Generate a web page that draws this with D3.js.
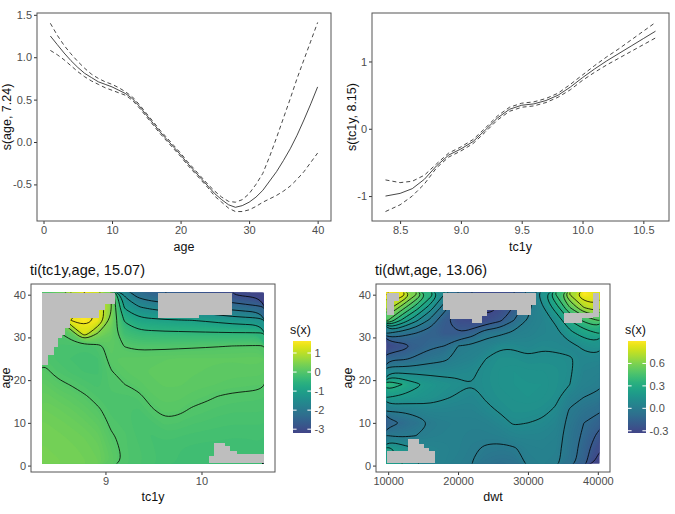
<!DOCTYPE html>
<html>
<head>
<meta charset="utf-8">
<script src="https://cdn.jsdelivr.net/npm/d3@7"></script>
<style>
  body { margin: 0; background: #fff; }
</style>
</head>
<body>
<svg id="chart" width="675" height="514"></svg>
<script>
// ---- top left: s(age) ----
const ages1 = [1, 2, 3, 4, 5, 6, 7, 8, 9, 10, 11, 12, 13, 14, 15, 16, 17, 18, 19, 20,
               21, 22, 23, 24, 25, 26, 27, 28, 29, 30, 31, 32, 33, 34, 35, 36, 37, 38, 39, 40];
const fit1 = [1.25, 1.15, 1.05, 0.96, 0.88, 0.81, 0.76, 0.71, 0.68, 0.65,
              0.61, 0.57, 0.51, 0.42, 0.32, 0.22, 0.12, 0.03, -0.06, -0.15,
              -0.25, -0.34, -0.43, -0.52, -0.61, -0.68, -0.74, -0.77, -0.75, -0.71,
              -0.65, -0.57, -0.46, -0.35, -0.22, -0.08, 0.08, 0.26, 0.45, 0.65];
const upper1 = [1.40, 1.26, 1.14, 1.04, 0.95, 0.87, 0.80, 0.75, 0.71, 0.68,
                0.64, 0.59, 0.53, 0.44, 0.34, 0.24, 0.14, 0.05, -0.04, -0.13,
                -0.23, -0.32, -0.41, -0.50, -0.58, -0.65, -0.70, -0.71, -0.68, -0.61,
                -0.50, -0.37, -0.17, 0.05, 0.28, 0.51, 0.75, 0.97, 1.19, 1.41];
const lower1 = [1.08, 1.03, 0.97, 0.90, 0.83, 0.77, 0.72, 0.68, 0.64, 0.61,
                0.58, 0.55, 0.49, 0.40, 0.30, 0.20, 0.10, 0.01, -0.08, -0.17,
                -0.27, -0.36, -0.45, -0.54, -0.64, -0.71, -0.78, -0.82, -0.82, -0.80,
                -0.76, -0.71, -0.67, -0.63, -0.58, -0.52, -0.44, -0.35, -0.24, -0.13];

// ---- top right: s(tc1y) ----
const tc1y2 = [8.38, 8.5, 8.6, 8.7, 8.8, 8.9, 9.0, 9.1, 9.2, 9.3, 9.4, 9.5,
               9.6, 9.7, 9.8, 9.9, 10.0, 10.1, 10.2, 10.3, 10.4, 10.5, 10.6];
const fit2 = [-1.00, -0.96, -0.89, -0.75, -0.55, -0.39, -0.30, -0.19, -0.02, 0.16, 0.29, 0.35,
              0.37, 0.42, 0.50, 0.62, 0.76, 0.89, 1.01, 1.12, 1.23, 1.34, 1.45];
const upper2 = [-0.76, -0.80, -0.78, -0.69, -0.52, -0.36, -0.27, -0.16, 0.01, 0.19, 0.32, 0.38,
                0.40, 0.45, 0.53, 0.66, 0.80, 0.94, 1.07, 1.19, 1.32, 1.45, 1.58];
const lower2 = [-1.23, -1.13, -1.00, -0.82, -0.58, -0.42, -0.33, -0.22, -0.05, 0.13, 0.26, 0.32,
                0.34, 0.39, 0.47, 0.58, 0.72, 0.84, 0.95, 1.05, 1.15, 1.25, 1.35];

// ---- bottom left: ti(tc1y, age) ----
const tc1y3 = [8.36, 8.50, 8.64, 8.78, 8.92, 9.06, 9.20, 9.34, 9.48, 9.62, 9.76, 9.90, 10.04, 10.18, 10.32, 10.46, 10.60];
const ages3 = [40, 37, 34, 31, 28, 25, 22, 19, 16, 13, 10, 7, 4, 1];
const fx3 = [
  [ 0.00,  0.30, 1.00, 1.50, 1.20, 0.50, -1.60, -2.20, -2.40, -2.50, -2.60, -2.70, -2.80, -2.90, -3.00, -3.10, -3.20],
  [ 0.00,  0.30, 1.30, 1.60, 1.40, 0.50, -1.05, -1.45, -1.60, -1.70, -1.75, -1.80, -1.90, -2.05, -2.20, -2.30, -2.40],
  [-0.05,  0.30, 1.50, 1.63, 1.45, 0.40, -0.55, -0.85, -0.90, -0.95, -0.98, -1.00, -1.05, -1.12, -1.20, -1.25, -1.30],
  [-0.10, -0.05, 0.15, 1.30, 0.50, 0.20, -0.25, -0.38, -0.40, -0.42, -0.43, -0.44, -0.45, -0.46, -0.47, -0.47, -0.48],
  [-0.10, -0.12, -0.12, -0.15, -0.08, 0.12, -0.01, -0.05, -0.05, -0.05, -0.04, -0.03, -0.02, -0.01, 0.00, 0.01, 0.02],
  [-0.05, -0.12, -0.16, -0.18, -0.16, 0.08, 0.10, 0.10, 0.12, 0.13, 0.14, 0.14, 0.14, 0.14, 0.14, 0.15, 0.15],
  [ 0.05, -0.06, -0.12, -0.16, -0.17, -0.01, 0.08, 0.12, 0.14, 0.15, 0.15, 0.14, 0.13, 0.12, 0.11, 0.11, 0.11],
  [ 0.14,  0.05, -0.01, -0.08, -0.13, -0.04, 0.00, 0.06, 0.12, 0.14, 0.14, 0.12, 0.10, 0.08, 0.06, 0.05, 0.04],
  [ 0.22,  0.16, 0.10, 0.03, -0.06, -0.07, -0.08, -0.05, 0.07, 0.11, 0.10, 0.06, 0.03, -0.01, -0.03, -0.04, -0.05],
  [ 0.28,  0.24, 0.19, 0.12, 0.03, -0.08, -0.10, -0.12, -0.02, 0.06, 0.04, -0.02, -0.05, -0.08, -0.10, -0.10, -0.10],
  [ 0.33,  0.30, 0.26, 0.20, 0.12, -0.04, -0.08, -0.14, -0.12, -0.04, -0.06, -0.10, -0.12, -0.14, -0.15, -0.15, -0.15],
  [ 0.36,  0.34, 0.31, 0.27, 0.20, 0.02, -0.05, -0.12, -0.16, -0.14, -0.15, -0.17, -0.18, -0.19, -0.20, -0.20, -0.19],
  [ 0.38,  0.36, 0.34, 0.31, 0.25, 0.08, -0.05, -0.10, -0.15, -0.18, -0.20, -0.22, -0.23, -0.23, -0.23, -0.23, -0.22],
  [ 0.40,  0.38, 0.36, 0.33, 0.28, 0.13, -0.04, -0.09, -0.14, -0.18, -0.21, -0.23, -0.24, -0.25, -0.25, -0.24, -0.23]
];
// cells too far from data, [x0, x1, age0, age1]
const na3 = [
  [8.34, 8.40, 23.6, 40.5], [8.40, 8.46, 25.9, 40.5], [8.46, 8.51, 27.8, 40.5],
  [8.51, 8.55, 29.8, 40.5], [8.55, 8.58, 30.5, 40.5], [8.58, 8.63, 32.1, 40.5],
  [8.63, 8.93, 34.6, 40.5], [8.93, 9.00, 36.4, 40.5], [9.00, 9.10, 37.9, 40.5],
  [9.55, 9.97, 34.6, 40.5], [9.97, 10.32, 35.3, 40.5],
  [10.08, 10.13, 0.5, 2.2], [10.13, 10.24, 0.5, 5.3], [10.24, 10.30, 0.5, 4.5],
  [10.30, 10.37, 0.5, 3.3], [10.37, 10.65, 0.5, 2.6]
];

// ---- bottom right: ti(dwt, age) ----
const dwt4 = [10000, 12000, 14000, 16000, 18000, 20000, 22000, 24000, 26000, 28000, 30000, 32000, 34000, 36000, 38000, 40000];
const ages4 = [40, 37, 34, 31, 28, 25, 22, 19, 16, 13, 10, 7, 4, 1];
const fx4 = [
  [ 0.90,  0.85,  0.60,  0.35,  0.10, -0.10, -0.20, -0.28, -0.28, -0.20, -0.05, 0.15, 0.40, 0.70, 0.90, 0.85],
  [ 0.75,  0.55,  0.35,  0.15, -0.05, -0.22, -0.30, -0.33, -0.30, -0.20, -0.03, 0.08, 0.25, 0.50, 0.70, 0.78],
  [ 0.50,  0.28,  0.12, -0.02, -0.18, -0.28, -0.30, -0.28, -0.22, -0.10, 0.01, 0.05, 0.12, 0.30, 0.42, 0.50],
  [ 0.00, -0.05, -0.10, -0.15, -0.20, -0.20, -0.15, -0.03, -0.02, 0.02, 0.04, 0.06, 0.07, 0.17, 0.25, 0.30],
  [-0.30, -0.25, -0.17, -0.12, -0.10, 0.00, 0.02, 0.04, 0.09, 0.09, 0.07, 0.09, 0.08, 0.07, 0.12, 0.15],
  [-0.12, -0.12, -0.08, -0.04, -0.02, 0.03, 0.05, 0.10, 0.13, 0.13, 0.11, 0.12, 0.12, 0.11, 0.07, 0.07],
  [ 0.08,  0.07,  0.07,  0.07,  0.07, 0.08, 0.09, 0.12, 0.14, 0.15, 0.14, 0.14, 0.13, 0.11, 0.05, 0.04],
  [ 0.38,  0.30,  0.22,  0.17,  0.14, 0.12, 0.10, 0.12, 0.14, 0.15, 0.15, 0.15, 0.13, 0.10, 0.04, 0.02],
  [ 0.20,  0.18,  0.16,  0.14,  0.11, 0.09, 0.07, 0.11, 0.13, 0.14, 0.15, 0.14, 0.12, 0.04, 0.00, -0.02],
  [ 0.02,  0.02,  0.04,  0.06,  0.06, 0.05, 0.05, 0.08, 0.11, 0.13, 0.13, 0.12, 0.09, -0.01, -0.05, -0.08],
  [-0.15, -0.10, -0.05,  0.00,  0.02, 0.03, 0.03, 0.04, 0.07, 0.11, 0.10, 0.09, 0.06, -0.03, -0.10, -0.15],
  [ 0.00, -0.02,  0.00,  0.02,  0.03, 0.03, 0.02, 0.02, 0.03, 0.06, 0.06, 0.06, 0.04, -0.04, -0.12, -0.22],
  [ 0.22,  0.15,  0.10,  0.06,  0.05, 0.03, 0.01, -0.01, -0.02, -0.01, 0.03, 0.04, 0.03, -0.05, -0.14, -0.28],
  [ 0.25,  0.20,  0.12,  0.06,  0.04, 0.02, 0.00, -0.04, -0.06, -0.05, 0.02, 0.03, 0.02, -0.05, -0.16, -0.33]
];
const na4 = [
  [9780, 10800, 35.2, 40.5], [10800, 11600, 38.5, 40.5],
  [17900, 18900, 36.5, 40.5], [18900, 22000, 34.4, 40.5], [22000, 23400, 33.3, 40.5],
  [23400, 24200, 35.0, 40.5], [24200, 28400, 36.4, 40.5], [28400, 30500, 35.2, 40.5],
  [30500, 31100, 37.5, 40.5],
  [35100, 37800, 33.3, 35.6], [37800, 39300, 34.5, 35.6], [39300, 40220, 34.7, 40.5],
  [9780, 12800, 0.5, 3.4], [12800, 14400, 0.5, 6.2], [14400, 15100, 0.5, 5.0],
  [15100, 15800, 0.5, 4.2], [15800, 16700, 0.5, 3.4]
];

const FONT = "'Liberation Sans', Arial, sans-serif";
const svg = d3.select("#chart");
svg.append("rect").attr("width", 675).attr("height", 514).attr("fill", "#fff");
const defs = svg.append("defs");

const expand = ([a, b]) => [a - 0.05 * (b - a), b + 0.05 * (b - a)];

function axes(box, x, y, xt, yt, xf, yf) {
  const ax = svg.append("g").attr("transform", `translate(0,${box.y1})`)
    .call(d3.axisBottom(x).tickValues(xt).tickFormat(xf).tickSize(3).tickPadding(2));
  const ay = svg.append("g").attr("transform", `translate(${box.x0},0)`)
    .call(d3.axisLeft(y).tickValues(yt).tickFormat(yf).tickSize(3).tickPadding(2));
  [ax, ay].forEach(g => {
    g.attr("font-family", FONT).attr("font-size", 11);
    g.select(".domain").remove();
    g.selectAll(".tick line").attr("stroke", "#333");
    g.selectAll(".tick text").attr("fill", "#4d4d4d");
  });
  svg.append("rect")
    .attr("x", box.x0).attr("y", box.y0)
    .attr("width", box.x1 - box.x0).attr("height", box.y1 - box.y0)
    .attr("fill", "none").attr("stroke", "#555").attr("stroke-width", 1);
}

function label(txt, x, y, size, rotate) {
  const t = svg.append("text").text(txt)
    .attr("font-family", FONT).attr("font-size", size).attr("fill", "#111");
  if (rotate) t.attr("text-anchor", "middle").attr("transform", `translate(${x},${y}) rotate(-90)`);
  else t.attr("x", x).attr("y", y).attr("text-anchor", "middle");
  return t;
}

// ---- smooth plots ----
function smoothPlot(box, xs, fit, up, lo, xt, yt, xf, yf, xTitle, yTitle, yTitleX) {
  const x = d3.scaleLinear().domain(expand(d3.extent(xs))).range([box.x0, box.x1]);
  const y = d3.scaleLinear().domain(expand(d3.extent(lo.concat(up)))).range([box.y1, box.y0]);
  const line = d3.line().x((d, i) => x(xs[i])).y(d => y(d));
  svg.append("path").attr("d", line(fit)).attr("fill", "none")
    .attr("stroke", "#333").attr("stroke-width", 0.9);
  [up, lo].forEach(s => svg.append("path").attr("d", line(s)).attr("fill", "none")
    .attr("stroke", "#333").attr("stroke-width", 0.9).attr("stroke-dasharray", "4,3"));
  axes(box, x, y, xt, yt, xf, yf);
  label(xTitle, (box.x0 + box.x1) / 2, 250.5, 12.5);
  label(yTitle, yTitleX, (box.y0 + box.y1) / 2, 12.5, true);
}

smoothPlot({x0: 37, x1: 331, y0: 13, y1: 221}, ages1, fit1, upper1, lower1,
  [0, 10, 20, 30, 40], [-0.5, 0, 0.5, 1, 1.5], d => d, d => d.toFixed(1),
  "age", "s(age, 7.24)", 11);
smoothPlot({x0: 372, x1: 669, y0: 13, y1: 221}, tc1y2, fit2, upper2, lower2,
  [8.5, 9, 9.5, 10, 10.5], [-1, 0, 1], d => d.toFixed(1), d => d.toFixed(0),
  "tc1y", "s(tc1y, 8.15)", 355.5);

// ---- tensor interaction rasters ----
function rasterPlot(id, cfg) {
  const {box, cols, rows, fx, na, rx, ry, xt, xf, levels, legendX, legTicks, legFmt, title, xTitle, yTitleX} = cfg;
  const nx = cols.length, ny = rows.length;
  const values = fx.flat();
  const ext = d3.extent(values);
  const x = d3.scaleLinear().domain(expand(rx)).range([box.x0, box.x1]);
  const y = d3.scaleLinear().domain(expand(ry)).range([box.y1, box.y0]);
  const gx = d3.scaleLinear().domain([0.5, nx - 0.5]).range([x(cols[0]), x(cols[nx - 1])]);
  const gy = d3.scaleLinear().domain([0.5, ny - 0.5]).range([y(rows[0]), y(rows[ny - 1])]);
  const color = v => d3.interpolateViridis(0.2 + 0.8 * (v - ext[0]) / (ext[1] - ext[0]));

  const ring = d3.line().x(p => gx(p[0])).y(p => gy(p[1])).curve(d3.curveBasisClosed);
  const shape = c => c.coordinates.map(poly => poly.map(r => ring(r.slice(0, -1))).join("")).join("");

  defs.append("clipPath").attr("id", "clip" + id).append("rect")
    .attr("x", x(rx[0])).attr("y", y(ry[1]))
    .attr("width", x(rx[1]) - x(rx[0])).attr("height", y(ry[0]) - y(ry[1]));
  const g = svg.append("g").attr("clip-path", `url(#clip${id})`);

  const nBands = 100, step = (ext[1] - ext[0]) / nBands;
  const th = d3.range(nBands).map(i => ext[0] + i * step);
  const bands = d3.contours().size([nx, ny]).thresholds(th)(values);
  g.append("rect").attr("x", box.x0).attr("y", box.y0)
    .attr("width", box.x1 - box.x0).attr("height", box.y1 - box.y0).attr("fill", color(ext[0]));
  g.selectAll("path.band").data(bands).join("path").attr("class", "band")
    .attr("d", shape).attr("fill", d => color(d.value + step / 2)).attr("fill-rule", "evenodd");

  const iso = d3.contours().size([nx, ny]).thresholds(levels)(values);
  g.selectAll("path.iso").data(iso).join("path").attr("class", "iso")
    .attr("d", shape).attr("fill", "none").attr("stroke", "#000").attr("stroke-width", 0.8);

  svg.append("g").selectAll("rect").data(na).join("rect")
    .attr("x", d => x(d[0])).attr("width", d => x(d[1]) - x(d[0]))
    .attr("y", d => y(d[3])).attr("height", d => y(d[2]) - y(d[3]))
    .attr("fill", "#bebebe").attr("shape-rendering", "crispEdges");

  axes(box, x, y, xt, [0, 10, 20, 30, 40], xf, d => d);
  svg.append("text").text(title).attr("x", box.x0 - 1).attr("y", 274.5)
    .attr("font-family", FONT).attr("font-size", 14.5).attr("fill", "#111");
  label(xTitle, (box.x0 + box.x1) / 2, 500.5, 12.5);
  label("age", yTitleX, (box.y0 + box.y1) / 2, 12.5, true);

  // colour bar
  const lb = {x0: legendX, x1: legendX + 18, y0: 341, y1: 433};
  const ls = d3.scaleLinear().domain(ext).range([lb.y1, lb.y0]);
  const grad = defs.append("linearGradient").attr("id", "grad" + id)
    .attr("x1", 0).attr("y1", 1).attr("x2", 0).attr("y2", 0);
  d3.range(0, 1.0001, 0.05).forEach(t => grad.append("stop")
    .attr("offset", t).attr("stop-color", color(ext[0] + t * (ext[1] - ext[0]))));
  svg.append("rect").attr("x", lb.x0).attr("y", lb.y0)
    .attr("width", lb.x1 - lb.x0).attr("height", lb.y1 - lb.y0).attr("fill", `url(#grad${id})`);
  legTicks.forEach(v => {
    [[lb.x0, lb.x0 + 3.6], [lb.x1 - 3.6, lb.x1]].forEach(([a, b]) =>
      svg.append("line").attr("x1", a).attr("x2", b).attr("y1", ls(v)).attr("y2", ls(v))
        .attr("stroke", "#fff").attr("stroke-width", 1));
    svg.append("text").text(legFmt(v)).attr("x", lb.x1 + 3.5).attr("y", ls(v)).attr("dy", "0.35em")
      .attr("font-family", FONT).attr("font-size", 11).attr("fill", "#4d4d4d");
  });
  svg.append("text").text("s(x)").attr("x", lb.x0 - 3).attr("y", 334)
    .attr("font-family", FONT).attr("font-size", 12.5).attr("fill", "#111");
}

rasterPlot(3, {
  box: {x0: 31, x1: 275, y0: 284, y1: 472}, cols: tc1y3, rows: ages3, fx: fx3, na: na3,
  rx: [8.34, 10.65], ry: [0.5, 40.5], xt: [9, 10], xf: d => d,
  levels: d3.range(-6, 4).map(d => d / 2),
  legendX: 293, legTicks: [-3, -2, -1, 0, 1], legFmt: d => d,
  title: "ti(tc1y,age, 15.07)", xTitle: "tc1y", yTitleX: 9.5
});
rasterPlot(4, {
  box: {x0: 376, x1: 610, y0: 284, y1: 472}, cols: dwt4, rows: ages4, fx: fx4, na: na4,
  rx: [9780, 40220], ry: [0.5, 40.5], xt: [10000, 20000, 30000, 40000], xf: d => d,
  levels: d3.range(-3, 10).map(d => d / 10),
  legendX: 628, legTicks: [-0.3, 0, 0.3, 0.6], legFmt: d => d.toFixed(1),
  title: "ti(dwt,age, 13.06)", xTitle: "dwt", yTitleX: 351.5
});
</script>
</body>
</html>
